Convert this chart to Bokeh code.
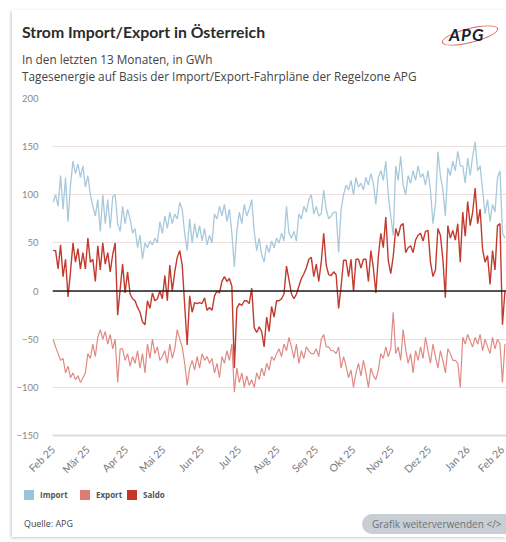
import pandas as pd
from math import pi
from bokeh.plotting import figure
from bokeh.layouts import column
from bokeh.models import (Range1d, FixedTicker, Span, Div,
                          CustomJSTickFormatter, ColumnDataSource)
from bokeh.embed import file_html
from bokeh.resources import INLINE

# ---------------- data (GWh per day, sampled every 2 days) ----------------
START = "2025-02-01"
STEP_DAYS = 2

IMPORT = [92, 100, 88, 120, 85, 118, 72, 110, 135, 122, 132, 118, 130, 108, 120, 100,
          88, 78, 95, 62, 100, 70, 95, 65, 98, 100, 70, 62, 88, 70, 85, 75,
          60, 65, 45, 58, 33, 50, 45, 52, 48, 55, 50, 72, 60, 78, 65, 82,
          70, 80, 75, 92, 85, 60, 42, 75, 50, 70, 55, 68, 52, 65, 48, 58,
          50, 80, 75, 88, 78, 90, 72, 85, 60, 25, 62, 82, 70, 90, 78, 85,
          95, 62, 42, 55, 38, 30, 48, 40, 52, 45, 55, 50, 60, 52, 88, 60,
          55, 62, 52, 80, 75, 88, 82, 95, 100, 80, 88, 78, 80, 105, 85, 75,
          78, 82, 82, 40, 85, 100, 110, 105, 115, 100, 118, 108, 112, 105, 118, 110,
          122, 112, 90, 118, 125, 115, 135, 100, 78, 58, 130, 115, 140, 110, 100, 120,
          112, 125, 115, 130, 118, 122, 110, 125, 105, 70, 90, 145, 120, 105, 78, 128,
          120, 135, 125, 145, 130, 130, 112, 138, 120, 140, 155, 125, 130, 105, 80, 95,
          72, 90, 82, 118, 125, 60, 55]

EXPORT = [-50, -58, -65, -72, -70, -85, -78, -90, -85, -92, -88, -95, -90, -85, -65, -70,
          -55, -68, -48, -40, -50, -42, -55, -45, -60, -50, -95, -60, -60, -72, -65, -78,
          -68, -75, -62, -80, -65, -85, -55, -70, -50, -65, -58, -72, -68, -62, -75, -55,
          -70, -60, -40, -50, -58, -75, -98, -80, -72, -82, -68, -80, -65, -72, -68, -75,
          -70, -85, -75, -90, -68, -75, -62, -72, -55, -105, -80, -95, -85, -100, -88, -98,
          -92, -100, -85, -92, -80, -88, -75, -82, -68, -72, -65, -60, -68, -55, -62, -48,
          -58, -70, -55, -75, -62, -70, -58, -62, -65, -65, -60, -68, -50, -45, -58, -58,
          -62, -62, -65, -58, -80, -68, -78, -90, -82, -100, -85, -75, -88, -72, -85, -100,
          -80, -88, -92, -82, -65, -70, -58, -68, -60, -22, -65, -58, -72, -40, -60, -75,
          -65, -85, -62, -72, -58, -70, -48, -62, -75, -55, -68, -80, -62, -72, -85, -60,
          -65, -72, -72, -75, -100, -48, -55, -45, -52, -58, -48, -55, -45, -62, -50, -58,
          -65, -48, -60, -50, -55, -95, -55]

SALDO = [42, 42, 23, 48, 15, 33, -6, 20, 50, 30, 44, 23, 40, 23, 55, 30,
         33, 10, 47, 22, 50, 28, 40, 20, 38, 50, -25, 2, 28, -2, 20, -3,
         -8, -10, -17, -22, -32, -35, -10, -18, -2, -10, -8, 0, -8, 16, -10, 27,
         0, 20, 35, 42, 27, -15, -56, -5, -22, -12, -13, -12, -13, -7, -20, -17,
         -20, -5, 0, -2, 10, 15, 10, 13, 5, -80, -18, -13, -15, -10, -10, -13,
         3, -38, -43, -37, -42, -58, -27, -42, -16, -27, -10, -10, -8, -3, 26, 12,
         -3, -8, -3, 5, 13, 18, 24, 33, 35, 15, 28, 10, 30, 60, 27, 17,
         16, 20, 17, -18, 5, 32, 32, 15, 33, 0, 33, 33, 24, 33, 33, 10,
         42, 24, -2, 36, 60, 45, 77, 32, 18, 36, 65, 57, 68, 70, 40, 45,
         47, 40, 53, 58, 60, 52, 62, 63, 30, 15, 22, 65, 58, 33, -7, 68,
         55, 63, 53, 70, 30, 82, 57, 93, 68, 82, 107, 70, 85, 43, 30, 37,
         7, 42, 22, 68, 70, -35, 0]

MONTH_TICKS = ["2025-02-01", "2025-03-01", "2025-04-01", "2025-05-01", "2025-06-01",
               "2025-07-01", "2025-08-01", "2025-09-01", "2025-10-01", "2025-11-01",
               "2025-12-01", "2026-01-01", "2026-02-01"]
MONTH_LABELS = ["Feb 25", "Mär 25", "Apr 25", "Mai 25", "Jun 25", "Jul 25", "Aug 25",
                "Sep 25", "Okt 25", "Nov 25", "Dez 25", "Jan 26", "Feb 26"]
Y_TICKS = [-150, -100, -50, 0, 50, 100, 150, 200]

SERIES_NAMES = ["Import", "Export", "Saldo"]
COLORS = ["#a8c9dc", "#e08a84", "#c23a2e"]
LEGEND_COLORS = ["#9cc3dc", "#e07b74", "#c4352b"]

TITLE = "Strom Import/Export in Österreich"
SUBTITLE_1 = "In den letzten 13 Monaten, in GWh"
SUBTITLE_2 = "Tagesenergie auf Basis der Import/Export-Fahrpläne der Regelzone APG"
SOURCE = "Quelle: APG"
BUTTON = "Grafik weiterverwenden &lt;/&gt;"

AXIS_FONT = "Lato"
CARD_X, CARD_Y = 12, 10          # card offset inside the window
W = 506 - CARD_X
HEAD_H = 82
MAIN_H = 393
FOOT_H = 52

# ---------------- header (title, subtitles, logo) ----------------
head_html = f"""
<div style="position:relative;width:{W}px;height:{HEAD_H}px;overflow:hidden;background:white;">
  <div style="position:absolute;left:10px;top:12px;font-family:Lato;font-weight:bold;
       font-size:15.8px;line-height:20px;color:#2b2b2b;white-space:nowrap;">{TITLE}</div>
  <div style="position:absolute;left:10px;top:42px;font-family:'Open Sans';
       font-size:11.8px;line-height:14px;color:#444;white-space:nowrap;">{SUBTITLE_1}</div>
  <div style="position:absolute;left:10px;top:59px;font-family:'Open Sans';
       font-size:11.8px;line-height:14px;color:#444;white-space:nowrap;">{SUBTITLE_2}</div>
  <div style="position:absolute;left:429px;top:18px;width:58px;height:15px;
       border:1.3px solid #d9655c;border-radius:50%;transform:rotate(-14deg);"></div>
  <div style="position:absolute;left:437px;top:14px;font-family:Lato;font-weight:bold;
       font-style:italic;font-size:17px;line-height:22px;color:#1d1d2b;
       letter-spacing:1px;">APG</div>
</div>"""
head = Div(text=head_html, width=W, height=HEAD_H, margin=0)

# ---------------- main chart ----------------
dates = pd.date_range(START, periods=len(IMPORT), freq=f"{STEP_DAYS}D")
src = ColumnDataSource(dict(date=dates, imp=IMPORT, exp=EXPORT, sal=SALDO))

p = figure(width=W, height=MAIN_H, x_axis_type="datetime",
           output_backend="svg", toolbar_location=None,
           x_range=Range1d(pd.Timestamp("2025-01-31 12:00"), pd.Timestamp("2026-02-01 06:00")),
           y_range=Range1d(-150, 200),
           min_border_left=52 - CARD_X, min_border_right=0, min_border_top=6,
           min_border_bottom=50)
p.outline_line_color = None
p.background_fill_color = "white"
p.border_fill_color = "white"

tick_ms = [int(pd.Timestamp(d).value // 10**6) for d in MONTH_TICKS]
p.xaxis.ticker = FixedTicker(ticks=tick_ms)
p.xaxis.formatter = CustomJSTickFormatter(
    args=dict(tick_vals=tick_ms, tick_labels=MONTH_LABELS),
    code="const i = tick_vals.indexOf(tick); return i >= 0 ? tick_labels[i] : '';")
p.xaxis.major_label_orientation = pi / 4
p.xaxis.axis_line_color = "#dcdcdc"
p.xaxis.axis_line_width = 2
p.xaxis.major_tick_line_color = None
p.xaxis.minor_tick_line_color = None
p.xaxis.major_label_text_font = AXIS_FONT
p.xaxis.major_label_text_font_size = "10.5px"
p.xaxis.major_label_text_color = "#7a7a7a"
p.xaxis.major_label_standoff = 6
p.xgrid.visible = False

p.yaxis.ticker = FixedTicker(ticks=Y_TICKS)
p.yaxis.axis_line_color = None
p.yaxis.major_tick_line_color = None
p.yaxis.minor_tick_line_color = None
p.yaxis.major_label_text_font = AXIS_FONT
p.yaxis.major_label_text_font_size = "9.5px"
p.yaxis.major_label_text_color = "#8a8a8a"
p.yaxis.major_label_standoff = 8
p.ygrid.ticker = FixedTicker(ticks=Y_TICKS)
p.ygrid.grid_line_color = "#ebdfdf"
p.ygrid.grid_line_width = 1

p.line("date", "imp", source=src, line_color=COLORS[0], line_width=1.3)
p.line("date", "exp", source=src, line_color=COLORS[1], line_width=1.2)
p.line("date", "sal", source=src, line_color=COLORS[2], line_width=1.4)
p.add_layout(Span(location=0, dimension="width", line_color="#1e1e1e", line_width=1.5))

# ---------------- footer (legend, source, button) ----------------
legend_x = [12, 68, 115]
legend_html = ""
for name, col, lx in zip(SERIES_NAMES, LEGEND_COLORS, legend_x):
    legend_html += (
        f'<div style="position:absolute;left:{lx}px;top:5px;width:10px;height:10px;'
        f'background:{col};"></div>'
        f'<div style="position:absolute;left:{lx + 16}px;top:4px;font-family:\'Open Sans\';'
        f'font-weight:bold;font-size:8px;line-height:12px;color:#555;">{name}</div>')

foot_html = f"""
<div style="position:relative;width:{W}px;height:{FOOT_H}px;overflow:hidden;background:white;">
  {legend_html}
  <div style="position:absolute;left:12px;top:33px;font-family:'Open Sans';
       font-size:8.9px;line-height:12px;color:#444;">{SOURCE}</div>
  <div style="position:absolute;left:350px;top:29px;width:170px;height:20px;
       border-radius:10px;background:#c8ced3;"></div>
  <div style="position:absolute;left:360px;top:29px;font-family:'Open Sans';
       font-size:10px;line-height:20px;color:#6b7379;white-space:nowrap;">{BUTTON}</div>
</div>"""
foot = Div(text=foot_html, width=W, height=FOOT_H, margin=0)

page = column(head, p, foot, spacing=0, margin=(CARD_Y, 0, 0, CARD_X),
              styles={"box-shadow": "-1px 1px 3px rgba(0,0,0,0.22)"})
open("out.html", "w", encoding="utf-8").write(file_html(page, INLINE))
